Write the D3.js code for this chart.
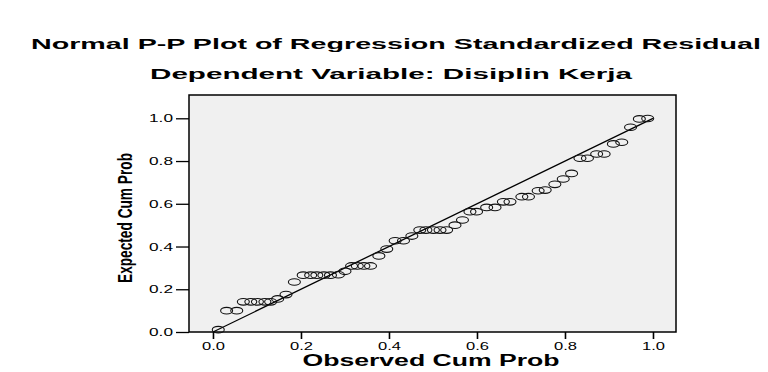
<!DOCTYPE html>
<html>
<head>
<meta charset="utf-8">
<script src="https://cdn.jsdelivr.net/npm/d3@7"></script>
<style>
  body { margin: 0; background: #fff; }
  text { font-family: "Liberation Sans", Arial, sans-serif; fill: #000; }
</style>
</head>
<body>
<div id="chart"></div>
<script>
// observed cum prob (x) and expected cum prob (y)
var observed = [0.012, 0.031, 0.054, 0.069, 0.086, 0.101, 0.118, 0.131, 0.147, 0.166,
  0.185, 0.205, 0.222, 0.236, 0.252, 0.267, 0.285, 0.300, 0.315, 0.328,
  0.343, 0.358, 0.377, 0.395, 0.414, 0.433, 0.452, 0.470, 0.484, 0.501,
  0.516, 0.531, 0.550, 0.567, 0.584, 0.599, 0.622, 0.641, 0.660, 0.675,
  0.702, 0.717, 0.739, 0.755, 0.777, 0.796, 0.815, 0.834, 0.851, 0.872,
  0.889, 0.910, 0.929, 0.949, 0.969, 0.988];
var expected = [0.011, 0.100, 0.100, 0.141, 0.141, 0.141, 0.141, 0.141, 0.155, 0.175,
  0.234, 0.266, 0.266, 0.266, 0.266, 0.266, 0.268, 0.284, 0.309, 0.309,
  0.309, 0.309, 0.356, 0.388, 0.427, 0.427, 0.449, 0.477, 0.477, 0.477,
  0.477, 0.477, 0.500, 0.524, 0.563, 0.563, 0.583, 0.583, 0.609, 0.609,
  0.633, 0.633, 0.661, 0.664, 0.691, 0.716, 0.742, 0.813, 0.813, 0.833,
  0.833, 0.880, 0.888, 0.958, 0.997, 0.999];
var xTicks = [0, 0.2, 0.4, 0.6, 0.8, 1.0];
var yTicks = [0, 0.2, 0.4, 0.6, 0.8, 1.0];

var w = 768, h = 372;
var plotLeft = 189, plotRight = 676, plotTop = 95, plotBottom = 332;

var svg = d3.select("#chart").append("svg")
  .attr("width", w)
  .attr("height", h);

var x = d3.scaleLinear().domain([-0.0545, 1.0523]).range([plotLeft, plotRight]);
var y = d3.scaleLinear().domain([0, 1.109]).range([plotBottom, plotTop]);

// titles
svg.append("text")
  .attr("x", 396).attr("y", 49)
  .attr("text-anchor", "middle")
  .attr("font-size", 15.5).attr("font-weight", "bold")
  .attr("textLength", 730).attr("lengthAdjust", "spacingAndGlyphs")
  .text("Normal P-P Plot of Regression Standardized Residual");

svg.append("text")
  .attr("x", 391).attr("y", 79)
  .attr("text-anchor", "middle")
  .attr("font-size", 15.5).attr("font-weight", "bold")
  .attr("textLength", 482).attr("lengthAdjust", "spacingAndGlyphs")
  .text("Dependent Variable: Disiplin Kerja");

// plot background
svg.append("rect")
  .attr("x", plotLeft).attr("y", plotTop)
  .attr("width", plotRight - plotLeft).attr("height", plotBottom - plotTop)
  .attr("fill", "#f0f0f0")
  .attr("stroke", "#000").attr("stroke-width", 1.5);

// axes
var xAxis = svg.append("g")
  .attr("transform", "translate(0," + plotBottom + ")")
  .call(d3.axisBottom(x).tickValues(xTicks).tickSize(7).tickFormat(d3.format(".1f")));
xAxis.select(".domain").remove();
xAxis.selectAll("line").attr("stroke-width", 1.6);
xAxis.selectAll("text")
  .attr("y", 17.5).attr("dy", null)
  .attr("font-size", 10.5).attr("font-family", null)
  .attr("textLength", 23).attr("lengthAdjust", "spacingAndGlyphs");

var yAxis = svg.append("g")
  .attr("transform", "translate(" + plotLeft + ",0)")
  .call(d3.axisLeft(y).tickValues(yTicks).tickSize(13).tickFormat(d3.format(".1f")));
yAxis.select(".domain").remove();
yAxis.selectAll("line").attr("stroke-width", 1.3);
yAxis.selectAll("text")
  .attr("x", -16).attr("dy", "0.35em")
  .attr("font-size", 10.5).attr("font-family", null)
  .attr("textLength", 24).attr("lengthAdjust", "spacingAndGlyphs");
svg.selectAll(".tick text").attr("fill", "#000");

// axis titles
svg.append("text")
  .attr("x", 431).attr("y", 366)
  .attr("text-anchor", "middle")
  .attr("font-size", 16).attr("font-weight", "bold")
  .attr("textLength", 257).attr("lengthAdjust", "spacingAndGlyphs")
  .text("Observed Cum Prob");

svg.append("text")
  .attr("transform", "translate(131.5,218) scale(1.6,1) rotate(-90)")
  .attr("text-anchor", "middle")
  .attr("font-size", 12.5).attr("font-weight", "bold")
  .attr("textLength", 130).attr("lengthAdjust", "spacingAndGlyphs")
  .text("Expected Cum Prob");

// reference line
svg.append("line")
  .attr("x1", x(0)).attr("y1", y(0))
  .attr("x2", x(1)).attr("y2", y(1))
  .attr("stroke", "#000").attr("stroke-width", 1.3);

// points
svg.selectAll("ellipse")
  .data(observed)
  .enter()
  .append("ellipse")
  .attr("cx", function(d) { return x(d); })
  .attr("cy", function(d, i) { return y(expected[i]); })
  .attr("rx", 6)
  .attr("ry", 3.3)
  .attr("fill", "none")
  .attr("stroke", "#111")
  .attr("stroke-width", 1.1);
</script>
</body>
</html>
